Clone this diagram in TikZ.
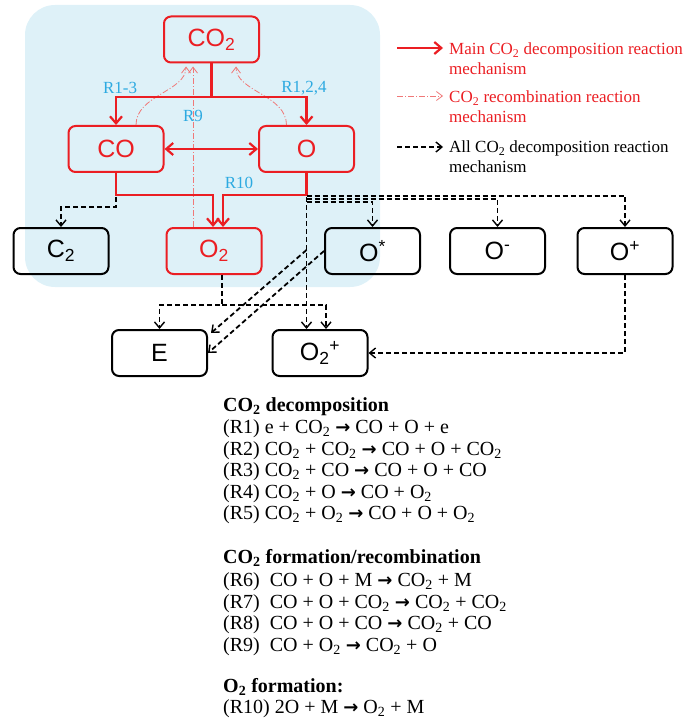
\documentclass[tikz,border=0pt]{standalone}
\usepackage{fontspec}
\setmainfont{Liberation Serif}
\newfontfamily\arialf{Liberation Sans}
\newfontfamily\dejavuf{DejaVu Sans}
\usetikzlibrary{arrows.meta,calc}
\definecolor{mred}{RGB}{235,30,35}
\definecolor{lred}{RGB}{240,120,120}
\definecolor{lblue}{RGB}{222,241,248}
\definecolor{lcyan}{RGB}{45,170,225}
\newcommand{\rarr}{{\dejavuf\bfseries\fontsize{18}{20}\selectfont →}}
\begin{document}
\begin{tikzpicture}[x=1pt,y=-1pt,
  box/.style={draw=black, line width=2pt, rounded corners=7pt, minimum width=95pt, minimum height=46pt, inner sep=0pt, font=\arialf\fontsize{25}{30}\selectfont},
  redbox/.style={box, draw=mred, text=mred},
  mainarr/.style={draw=mred, line width=2.2pt, >={Straight Barb[length=7pt,width=12pt]}, ->},
  recomb/.style={draw=lred, line width=0.8pt, dash pattern=on 6pt off 2pt on 1pt off 2pt, >={Straight Barb[length=6pt,width=9pt]}, ->},
  alldec/.style={draw=black, line width=1.8pt, dash pattern=on 5pt off 3pt, >={Straight Barb[length=6pt,width=10pt,line width=1.4pt]}, ->},
  lab/.style={text=lcyan, font=\fontsize{17}{20}\selectfont, inner sep=0pt},
  legtext/.style={anchor=base west, inner sep=0pt, font=\fontsize{17}{20}\selectfont},
  rx/.style={anchor=base west, inner sep=0pt, font=\fontsize{20}{24}\selectfont},
]
\useasboundingbox (0,0) rectangle (683,719);
\fill[lblue, rounded corners=30pt] (25,5) rectangle (380,287);

% nodes
\node[redbox] (co2) at (211.5,39.5) {CO\textsubscript{2}};
\node[redbox] (co) at (116,149) {CO};
\node[redbox] (o) at (306.5,149) {O};
\node[box] (c2) at (61,251) {C\textsubscript{2}};
\node[redbox] (o2) at (214,251) {O\textsubscript{2}};
\node[box] (os) at (372.5,251) {O\textsuperscript{*}};
\node[box] (om) at (497.5,251) {O\textsuperscript{-}};
\node[box] (op) at (625,251) {O\textsuperscript{+}};
\node[box] (e) at (159.5,353) {E};
\node[box] (o2p) at (320,353) {O\textsubscript{2}\textsuperscript{+}};

% recombination (red dashed)
\draw[recomb] ($(co.north)+(20,0)$) .. controls +(0,-30) and +(0,25) .. ($(co2.south)+(-25.5,3)$);
\draw[recomb] ($(o.north)+(-20,0)$) .. controls +(0,-30) and +(0,25) .. ($(co2.south)+(24.5,3)$);
\draw[recomb] ($(o2.north)+(-21,0)$) -- ($(co2.south)+(-18.5,3)$);

% main decomposition (red solid)
\coordinate (j1) at (211.5,97);
\draw[mainarr] (co2.south) -- (j1) -| (co.north);
\draw[mainarr] (j1) -| (o.north);
\draw[mainarr, <->] (co) -- (o);
\coordinate (jc) at (116,195);
\coordinate (jo) at (306.5,195);
\draw[mainarr] (co.south) -- (jc) -| ($(o2.north)+(-1,0)$);
\draw[mainarr] (o.south) -- (jo) -| ($(o2.north)+(9,0)$);

% labels
\node[lab] (lr13) at (120,88) {R1-3};
\node[lab] (lr124) at (304,88) {R1,2,4};
\node[lab] (lr9) at (193,116) {R9};
\node[lab] (lr10) at (239,183) {R10};

% all decomposition (black dashed)
\draw[alldec] ($(jc)+(0,2)$) -- ++(0,10) -| (c2.north);
\draw[alldec] ($(jo)+(0,1)$) -| (op.north);
\draw[alldec] ($(jo)+(0,4)$) -| (om.north);
\draw[alldec] ($(jo)+(0,7)$) -| (os.north);
\draw[alldec] ($(jo)+(0,2)$) -- (jo |- o2p.north);
\coordinate (jd) at (306.5,250);
\draw[alldec] (jd) -- ($(e.east)+(3,-20)$);
\draw[alldec] (os.west) -- (e.east);
\coordinate (jo2) at (222,305);
\draw[alldec] ($(o2.south)+(8,0)$) -- (jo2) -| (e.north);
\draw[alldec] (jo2) -| ($(o2p.north)+(6,0)$);
\draw[alldec] (op.south) |- (o2p.east);

% legend
\coordinate (la1) at (397,48); \coordinate (lb1) at (443,48);
\draw[mainarr] (la1) -- (lb1);
\node[legtext, text=mred] (lt1) at (449,55) {Main CO\textsubscript{2} decomposition reaction};
\node[legtext, text=mred] (lt1b) at (449,75) {mechanism};
\coordinate (la2) at (397,96); \coordinate (lb2) at (443,96);
\draw[recomb] (la2) -- (lb2);
\node[legtext, text=mred] (lt2) at (449,103) {CO\textsubscript{2} recombination reaction};
\node[legtext, text=mred] (lt2b) at (449,123) {mechanism};
\coordinate (la3) at (397,147); \coordinate (lb3) at (443,147);
\draw[alldec] (la3) -- (lb3);
\node[legtext] (lt3) at (449,153) {All CO\textsubscript{2} decomposition reaction};
\node[legtext] (lt3b) at (449,173) {mechanism};

% reactions
\node[rx] (h1) at (223,411) {\textbf{CO\textsubscript{2} decomposition}};
\node[rx] (r1) at (223,433) {(R1) e + CO\textsubscript{2} \rarr{} CO + O + e};
\node[rx] (r2) at (223,455) {(R2) CO\textsubscript{2} + CO\textsubscript{2} \rarr{} CO + O + CO\textsubscript{2}};
\node[rx] (r3) at (223,476) {(R3) CO\textsubscript{2} + CO \rarr{} CO + O + CO};
\node[rx] (r4) at (223,498) {(R4) CO\textsubscript{2} + O \rarr{} CO + O\textsubscript{2}};
\node[rx] (r5) at (223,519) {(R5) CO\textsubscript{2} + O\textsubscript{2} \rarr{} CO + O + O\textsubscript{2}};
\node[rx] (h2) at (223,563) {\textbf{CO\textsubscript{2} formation/recombination}};
\node[rx] (r6) at (223,586) {(R6)\ \ CO + O + M \rarr{} CO\textsubscript{2} + M};
\node[rx] (r7) at (223,608) {(R7)\ \ CO + O + CO\textsubscript{2} \rarr{} CO\textsubscript{2} + CO\textsubscript{2}};
\node[rx] (r8) at (223,629) {(R8)\ \ CO + O + CO \rarr{} CO\textsubscript{2} + CO};
\node[rx] (r9) at (223,651) {(R9)\ \ CO + O\textsubscript{2} \rarr{} CO\textsubscript{2} + O};
\node[rx] (h3) at (223,692) {\textbf{O\textsubscript{2} formation:}};
\node[rx] (r10) at (223,713) {(R10) 2O + M \rarr{} O\textsubscript{2} + M};
\end{tikzpicture}
\end{document}
